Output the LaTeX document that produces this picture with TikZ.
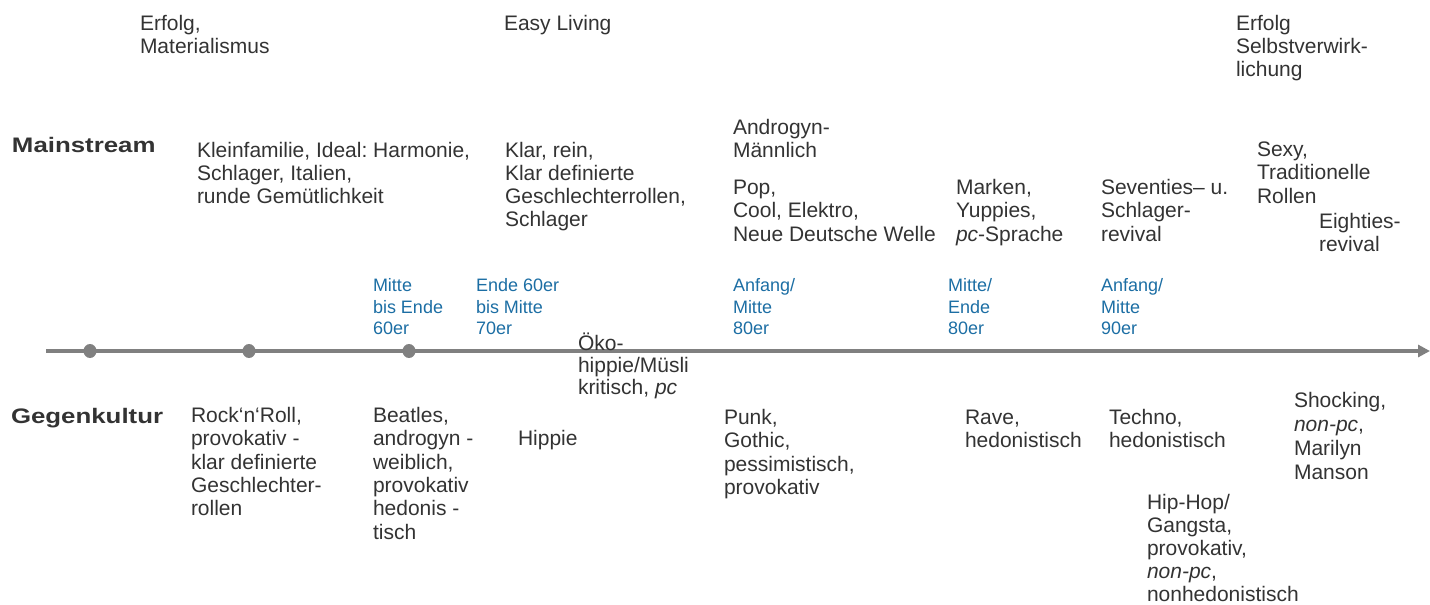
\documentclass[tikz,border=0pt]{standalone}
\usepackage{fontspec}
\setmainfont{Liberation Sans}
\frenchspacing
\usetikzlibrary{arrows.meta,shapes.geometric}
\definecolor{txtgray}{RGB}{51,51,51}
\definecolor{datblue}{HTML}{1C6EA4}
\definecolor{linegray}{RGB}{128,128,128}
\newcommand{\blk}[1]{\begin{tabular}[t]{@{}l@{}}#1\end{tabular}}
\tikzset{
  txt/.style={anchor=base west, inner sep=0pt, outer sep=0pt, text=txtgray,
    font=\fontsize{21}{23.3}\selectfont},
  dat/.style={anchor=base west, inner sep=0pt, outer sep=0pt, text=datblue,
    font=\fontsize{18}{21.7}\selectfont},
  lbl/.style={anchor=base west, inner sep=0pt, outer sep=0pt, text=txtgray,
    font=\fontsize{21}{23.3}\selectfont\bfseries},
  tdot/.style={ellipse, fill=linegray, draw=none, minimum width=13pt, minimum height=14pt, inner sep=0pt},
  tline/.style={draw=linegray, line width=4pt, -{Triangle[length=12pt,width=12pt]}}
}
\begin{document}
\begin{tikzpicture}[x=1pt,y=-1pt]
\useasboundingbox (0,0) rectangle (1430,605);
% timeline
\coordinate (tlstart) at (46,351);
\coordinate (tlend) at (1430,351);
\draw[tline] (tlstart) -- (tlend);
\node[tdot] (dot1) at (90,351) {};
\node[tdot] (dot2) at (249,351) {};
\node[tdot] (dot3) at (409,351) {};
% top values
\node[txt] (top1) at (140,30) {\blk{Erfolg,\\Materialismus}};
\node[txt] (top2) at (504,30) {\blk{Easy Living}};
\node[txt] (top3) at (1236,30) {\blk{Erfolg\\Selbstverwirk-\\lichung}};
% mainstream
\node[lbl] (mainlabel) at (12,152) {\scalebox{1.23}[1]{Mainstream}};
\node[txt] (m1) at (197,157) {\blk{Kleinfamilie, Ideal: Harmonie,\\Schlager, Italien,\\runde Gemütlichkeit}};
\node[txt] (m2) at (505,157) {\blk{Klar, rein,\\Klar definierte\\Geschlechterrollen,\\Schlager}};
\node[txt] (m3a) at (733,134.5) {\blk{Androgyn-\\Männlich}};
\node[txt] (m3) at (733,194.5) {\blk{Pop,\\Cool, Elektro,\\Neue Deutsche Welle}};
\node[txt] (m4) at (956,194.5) {\blk{Marken,\\Yuppies,\\\textit{pc}-Sprache}};
\node[txt] (m5) at (1101,194.5) {\blk{Seventies– u.\\Schlager-\\revival}};
\node[txt] (m6) at (1257,156.5) {\blk{Sexy,\\Traditionelle\\Rollen}};
\node[txt] (m7) at (1319,228.5) {\blk{Eighties-\\revival}};
% dates
\node[dat] (d1) at (373,291.5) {\blk{Mitte\\bis Ende\\60er}};
\node[dat] (d2) at (476,291.5) {\blk{Ende 60er\\bis Mitte\\70er}};
\node[dat] (d3) at (733,291.5) {\blk{Anfang/\\Mitte\\80er}};
\node[dat] (d4) at (948,291.5) {\blk{Mitte/\\Ende\\80er}};
\node[dat] (d5) at (1101,291.5) {\blk{Anfang/\\Mitte\\90er}};
% oeko
\node[txt,font=\fontsize{21}{22}\selectfont] (oeko) at (578,350.5) {\blk{Öko-\\hippie/Müsli\\kritisch, \textit{pc}}};
% gegenkultur
\node[lbl] (gegenlabel) at (11,423) {\scalebox{1.23}[1]{Gegenkultur}};
\node[txt] (g1) at (191,422.5) {\blk{Rock‘n‘Roll,\\provokativ -\\klar definierte\\Geschlechter-\\rollen}};
\node[txt] (g2) at (373,422.5) {\blk{Beatles,\\androgyn -\\weiblich,\\provokativ\\hedonis -\\tisch}};
\node[txt] (g3) at (518,445.5) {\blk{Hippie}};
\node[txt] (g4) at (724,424.5) {\blk{Punk,\\Gothic,\\pessimistisch,\\provokativ}};
\node[txt] (g5) at (965,424.5) {\blk{Rave,\\hedonistisch}};
\node[txt] (g6) at (1109,424.5) {\blk{Techno,\\hedonistisch}};
\node[txt,font=\fontsize{21}{24}\selectfont] (g7) at (1294,407.5) {\blk{Shocking,\\\textit{non-pc},\\Marilyn\\Manson}};
\node[txt,font=\fontsize{21}{23.2}\selectfont] (g8) at (1147,509) {\blk{Hip-Hop/\\Gangsta,\\provokativ,\\\textit{non-pc},\\nonhedonistisch}};
\end{tikzpicture}
\end{document}
